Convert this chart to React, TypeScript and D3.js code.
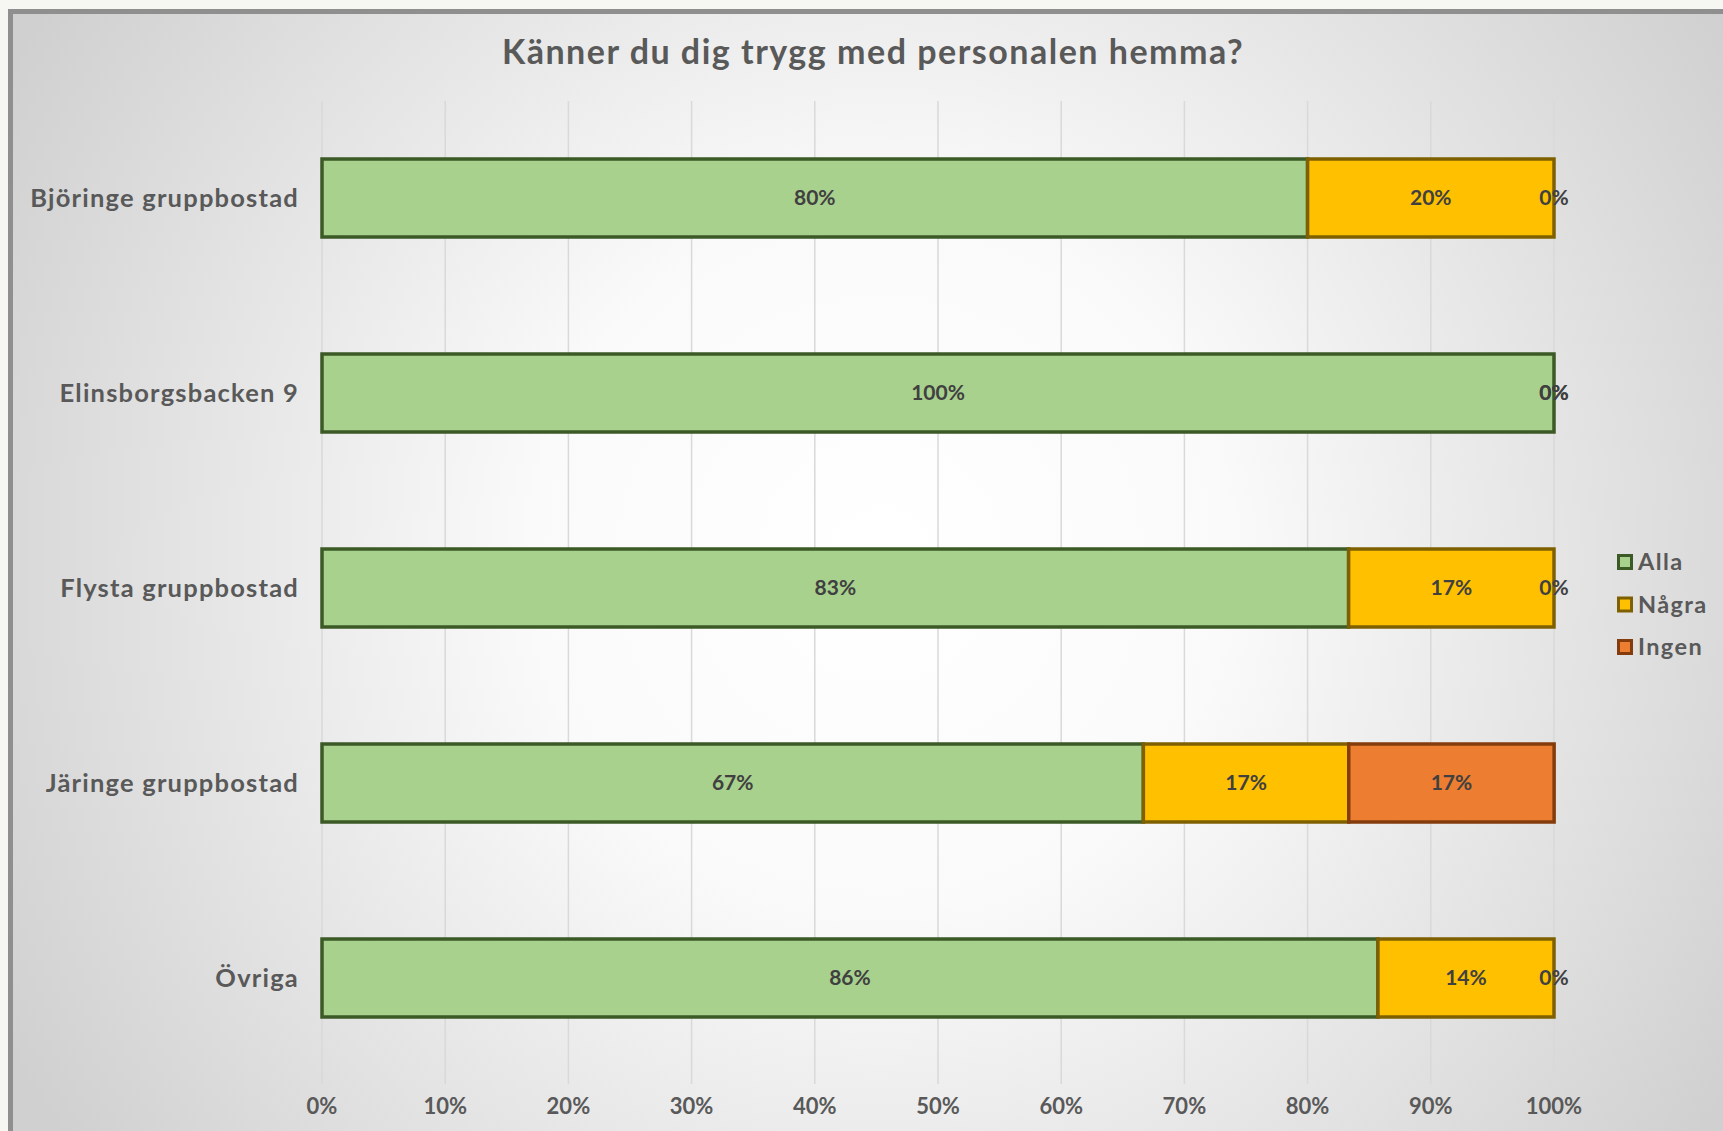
import React from "react";
import * as d3 from "d3";

const categories = [
  "Björinge gruppbostad",
  "Elinsborgsbacken 9",
  "Flysta gruppbostad",
  "Järinge gruppbostad",
  "Övriga",
];
const alla = [0.8, 1.0, 0.8333, 0.6667, 0.8571];
const nagra = [0.2, 0.0, 0.1667, 0.1667, 0.1429];
const ingen = [0.0, 0.0, 0.0, 0.1667, 0.0];
const seriesNames = ["Alla", "Några", "Ingen"];
const xTicks = [0, 0.1, 0.2, 0.3, 0.4, 0.5, 0.6, 0.7, 0.8, 0.9, 1.0];

const fills = ["#a9d18e", "#ffc000", "#ed7d31"];
const strokes = ["#3b5a26", "#7f6000", "#843c0c"];
const FONT = "Lato, 'DejaVu Sans', sans-serif";

export default function App() {
  const W = 1723;
  const H = 1131;
  const rows = categories.map((c, i) => ({
    cat: c,
    Alla: alla[i],
    Några: nagra[i],
    Ingen: ingen[i],
  }));
  const stack = d3.stack<any>().keys(seriesNames)(rows);

  const x = d3.scaleLinear().domain([0, 1]).range([322, 1554]);
  const y = d3
    .scaleBand<string>()
    .domain(categories)
    .range([100.5, 1075.5])
    .paddingInner(0.6)
    .paddingOuter(0.3);
  const bw = y.bandwidth();
  const fmt = (v: number) => `${Math.round(v * 100)}%`;

  return (
    <div style={{ position: "absolute", left: 0, top: 0 }}>
      <svg width={W} height={H} style={{ display: "block" }}>
        <defs>
          <radialGradient
            id="bg"
            gradientUnits="userSpaceOnUse"
            cx={880}
            cy={560}
            r={1000}
          >
            <stop offset="0" stopColor="#ffffff" />
            <stop offset="0.35" stopColor="#fafafa" />
            <stop offset="1" stopColor="#d0d0d0" />
          </radialGradient>
        </defs>
        <rect x={0} y={0} width={W} height={H} fill="#f6f7f2" />
        <rect
          x={10.5}
          y={11.5}
          width={1800}
          height={1300}
          fill="url(#bg)"
          stroke="#8f8f8f"
          strokeWidth={5}
        />
        <text
          x={873}
          y={64}
          textAnchor="middle"
          fontFamily={FONT}
          fontWeight={700}
          fontSize={34}
          letterSpacing={1.5}
          fill="#595959"
        >
          Känner du dig trygg med personalen hemma?
        </text>
        {xTicks.map((t) => (
          <g key={t}>
            <line
              x1={x(t)}
              x2={x(t)}
              y1={101}
              y2={1084}
              stroke="#d9d9d9"
              strokeWidth={1.5}
            />
            <text
              x={x(t)}
              y={1114}
              textAnchor="middle"
              fontFamily={FONT}
              fontWeight={700}
              fontSize={22}
              fill="#595959"
            >
              {fmt(t)}
            </text>
          </g>
        ))}
        {categories.map((c) => (
          <text
            key={c}
            x={299}
            y={(y(c) as number) + bw / 2}
            dy="0.35em"
            textAnchor="end"
            fontFamily={FONT}
            fontWeight={700}
            fontSize={25.5}
            letterSpacing={1.2}
            fill="#595959"
          >
            {c}
          </text>
        ))}
        {stack.map((s, si) => (
          <g key={s.key}>
            {s.map((d, i) => (
              <rect
                key={i}
                x={x(d[0])}
                y={y(categories[i])}
                width={Math.max(0, x(d[1]) - x(d[0]))}
                height={bw}
                fill={fills[si]}
                stroke={strokes[si]}
                strokeWidth={3.5}
              />
            ))}
          </g>
        ))}
        {stack.map((s, si) => (
          <g key={"l" + s.key}>
            {s.map((d, i) => (
              <text
                key={i}
                x={(x(d[0]) + x(d[1])) / 2}
                y={(y(categories[i]) as number) + bw / 2}
                dy="0.35em"
                textAnchor="middle"
                fontFamily={FONT}
                fontWeight={700}
                fontSize={21}
                fill="#404040"
              >
                {fmt(d[1] - d[0])}
              </text>
            ))}
          </g>
        ))}
        {seriesNames.map((n, i) => (
          <g key={n} transform={`translate(1617, ${562 + i * 42.5})`}>
            <rect
              x={1.5}
              y={-6.5}
              width={13}
              height={13}
              fill={fills[i]}
              stroke={strokes[i]}
              strokeWidth={3}
            />
            <text
              x={21}
              y={0}
              dy="0.35em"
              fontFamily={FONT}
              fontWeight={700}
              fontSize={23.5}
              letterSpacing={1.4}
              fill="#595959"
            >
              {n}
            </text>
          </g>
        ))}
      </svg>
    </div>
  );
}
